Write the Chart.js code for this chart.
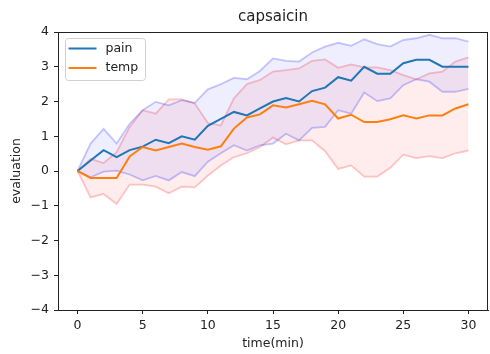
<!DOCTYPE html>
<html>
<head>
<meta charset="utf-8">
<script src="https://cdn.jsdelivr.net/npm/chart.js@4/dist/chart.umd.min.js"></script>
<style>
body{margin:0;background:#fff;}
</style>
</head>
<body>
<canvas id="myChart" width="490" height="354"></canvas>
<script>
const time=[0,1,2,3,4,5,6,7,8,9,10,11,12,13,14,15,16,17,18,19,20,21,22,23,24,25,26,27,28,29,30];
const painMean=[0,0.3,0.6,0.4,0.6,0.7,0.9,0.8,1.0,0.9,1.3,1.5,1.7,1.6,1.8,2.0,2.1,2.0,2.3,2.4,2.7,2.6,3.0,2.8,2.8,3.1,3.2,3.2,3.0,3.0,3.0];
const painUpper=[0,0.79,1.21,0.79,1.36,1.75,1.99,1.89,2.04,1.96,2.35,2.5,2.68,2.64,2.88,3.24,3.17,3.15,3.41,3.58,3.69,3.6,3.79,3.65,3.58,3.77,3.82,3.92,3.82,3.82,3.72];
const painLower=[0,-0.18,-0.02,0.01,-0.1,-0.27,-0.14,-0.27,-0.03,-0.15,0.27,0.51,0.74,0.59,0.74,0.79,1.07,0.88,1.24,1.27,1.75,1.65,2.26,2.01,2.09,2.47,2.64,2.57,2.28,2.28,2.36];
const tempMean=[0,-0.2,-0.2,-0.2,0.42,0.69,0.59,0.69,0.79,0.69,0.61,0.71,1.22,1.54,1.63,1.89,1.83,1.92,2.02,1.92,1.51,1.62,1.41,1.41,1.49,1.6,1.51,1.6,1.6,1.8,1.92];
const tempUpper=[0,0.35,0.23,0.54,1.27,1.75,1.65,2.06,2.06,1.94,1.38,1.31,2.09,2.5,2.62,2.86,2.9,2.95,3.17,3.21,2.97,3.07,2.98,2.98,2.9,2.76,2.64,2.81,2.86,3.15,3.27];
const tempLower=[0,-0.76,-0.66,-0.95,-0.39,-0.39,-0.45,-0.64,-0.45,-0.47,-0.13,0.16,0.4,0.51,0.69,0.96,0.77,0.88,0.88,0.57,0.06,0.16,-0.16,-0.16,0.09,0.47,0.37,0.43,0.37,0.51,0.59];
const xTicks=[0,5,10,15,20,25,30];

const pts=arr=>time.map((t,i)=>({x:t,y:arr[i]}));
const font='"DejaVu Sans", sans-serif';
const ink='#222';

// matplotlib-like closed frame + legend box inside the axes
const framePlugin={
    id:'frame',
    afterDraw(chart){
        const ctx=chart.ctx, a=chart.chartArea;
        ctx.save();
        ctx.strokeStyle=ink;
        ctx.lineWidth=1;
        ctx.beginPath();
        ctx.moveTo(a.left,a.top+0.5);ctx.lineTo(a.right,a.top+0.5);
        ctx.moveTo(a.right-0.5,a.top);ctx.lineTo(a.right-0.5,a.bottom);
        ctx.stroke();
        // legend
        const items=[chart.data.datasets[1],chart.data.datasets[0]];
        const x0=a.left+7.5, y0=a.top+6.5;
        ctx.fillStyle='rgba(255,255,255,0.8)';
        ctx.strokeStyle='#d0d0d0';
        ctx.beginPath();
        ctx.roundRect(x0,y0,80,42,3);
        ctx.fill();ctx.stroke();
        ctx.font='12.5px '+font;
        ctx.textBaseline='middle';
        items.forEach((d,i)=>{
            const y=y0+10+i*19.5;
            ctx.strokeStyle=d.borderColor;
            ctx.lineWidth=2;
            ctx.beginPath();ctx.moveTo(x0+3,y);ctx.lineTo(x0+31,y);ctx.stroke();
            ctx.fillStyle=ink;
            ctx.fillText(d.label,x0+40,y);
        });
        ctx.restore();
    }
};

const ctx=document.getElementById('myChart').getContext('2d');
const myChart=new Chart(ctx,{
    type:'line',
    data:{
        datasets:[
            {label:'temp',data:pts(tempMean),borderColor:'#ff7f0e',borderWidth:2,fill:false},
            {label:'pain',data:pts(painMean),borderColor:'#1f77b4',borderWidth:2,fill:false},
            {label:'pain upper',data:pts(painUpper),borderColor:'rgba(0,0,255,0.22)',borderWidth:1.8,fill:'+1',backgroundColor:'rgba(0,0,255,0.065)'},
            {label:'pain lower',data:pts(painLower),borderColor:'rgba(0,0,255,0.22)',borderWidth:1.8,fill:false},
            {label:'temp upper',data:pts(tempUpper),borderColor:'rgba(255,0,0,0.22)',borderWidth:1.8,fill:'+1',backgroundColor:'rgba(255,0,0,0.07)'},
            {label:'temp lower',data:pts(tempLower),borderColor:'rgba(255,0,0,0.22)',borderWidth:1.8,fill:false}
        ]
    },
    options:{
        responsive:false,
        animation:false,
        devicePixelRatio:1,
        layout:{padding:{right:2,left:0,top:0,bottom:0}},
        elements:{point:{radius:0},line:{tension:0}},
        plugins:{
            legend:{display:false},
            tooltip:{enabled:false},
            title:{display:true,text:'capsaicin',fullSize:false,color:ink,
                font:{family:font,size:15,weight:'normal'},padding:{top:8,bottom:6}}
        },
        scales:{
            x:{
                type:'linear',min:-1.5,max:31.5,
                afterBuildTicks:s=>{s.ticks=xTicks.map(v=>({value:v}));},
                afterFit:s=>{s.height=44;},
                grid:{display:true,drawOnChartArea:false,drawTicks:true,tickLength:4,tickColor:ink},
                border:{display:true,color:ink,width:1},
                ticks:{color:ink,padding:4,font:{family:font,size:12.5},maxRotation:0},
                title:{display:true,text:'time(min)',color:ink,font:{family:font,size:12.5},padding:{top:0,bottom:3}}
            },
            y:{
                min:-4,max:4,
                afterFit:s=>{s.width=58;},
                grid:{display:true,drawOnChartArea:false,drawTicks:true,tickLength:4,tickColor:ink},
                border:{display:true,color:ink,width:1},
                ticks:{stepSize:1,color:ink,padding:5,font:{family:font,size:12.5},
                    callback:v=>v<0?'\u2212'+Math.abs(v):v},
                title:{display:true,text:'evaluation',color:ink,font:{family:font,size:12.5},padding:{top:9.5,bottom:0}}
            }
        }
    },
    plugins:[framePlugin]
});
</script>
</body>
</html>
